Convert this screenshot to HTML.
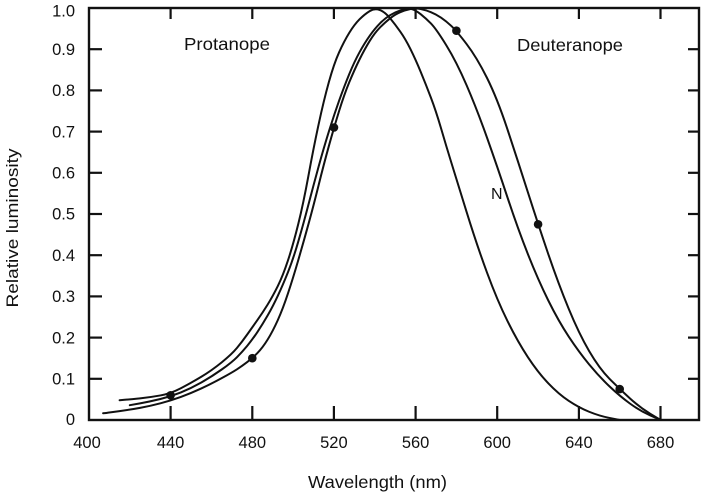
<!DOCTYPE html>
<html>
<head>
<meta charset="utf-8">
<style>
  html, body { margin: 0; padding: 0; background: #ffffff; }
  svg { display: block; }
  text { font-family: "Liberation Sans", Arial, sans-serif; fill: #111; }
</style>
</head>
<body>
<svg width="705" height="492" viewBox="0 0 705 492" xmlns="http://www.w3.org/2000/svg">
  <rect x="0" y="0" width="705" height="492" fill="#ffffff"/>

  <!-- Axes frame -->
  <rect x="89" y="8" width="610" height="412" fill="none" stroke="#111" stroke-width="2.4"/>

  <!-- Ticks -->
  <g stroke="#111" stroke-width="2.2">
    <line x1="89" y1="378.8" x2="102" y2="378.8"/>
    <line x1="89" y1="337.6" x2="102" y2="337.6"/>
    <line x1="89" y1="296.4" x2="102" y2="296.4"/>
    <line x1="89" y1="255.2" x2="102" y2="255.2"/>
    <line x1="89" y1="214" x2="102" y2="214"/>
    <line x1="89" y1="172.8" x2="102" y2="172.8"/>
    <line x1="89" y1="131.6" x2="102" y2="131.6"/>
    <line x1="89" y1="90.4" x2="102" y2="90.4"/>
    <line x1="89" y1="49.2" x2="102" y2="49.2"/>
    <line x1="699" y1="378.8" x2="688" y2="378.8"/>
    <line x1="699" y1="337.6" x2="688" y2="337.6"/>
    <line x1="699" y1="296.4" x2="688" y2="296.4"/>
    <line x1="699" y1="255.2" x2="688" y2="255.2"/>
    <line x1="699" y1="214" x2="688" y2="214"/>
    <line x1="699" y1="172.8" x2="688" y2="172.8"/>
    <line x1="699" y1="131.6" x2="688" y2="131.6"/>
    <line x1="699" y1="90.4" x2="688" y2="90.4"/>
    <line x1="699" y1="49.2" x2="688" y2="49.2"/>
    <line x1="170.6" y1="420" x2="170.6" y2="406"/>
    <line x1="252.3" y1="420" x2="252.3" y2="406"/>
    <line x1="333.9" y1="420" x2="333.9" y2="406"/>
    <line x1="415.6" y1="420" x2="415.6" y2="406"/>
    <line x1="497.2" y1="420" x2="497.2" y2="406"/>
    <line x1="578.9" y1="420" x2="578.9" y2="406"/>
    <line x1="660.5" y1="420" x2="660.5" y2="406"/>
    <line x1="170.6" y1="8" x2="170.6" y2="19"/>
    <line x1="252.3" y1="8" x2="252.3" y2="19"/>
    <line x1="333.9" y1="8" x2="333.9" y2="19"/>
    <line x1="415.6" y1="8" x2="415.6" y2="19"/>
    <line x1="497.2" y1="8" x2="497.2" y2="19"/>
    <line x1="578.9" y1="8" x2="578.9" y2="19"/>
    <line x1="660.5" y1="8" x2="660.5" y2="19"/>
  </g>

  <!-- Y tick labels -->
  <g font-size="16.5" text-anchor="end">
    <text x="75" y="425">0</text>
    <text x="75" y="384.5">0.1</text>
    <text x="75" y="343.3">0.2</text>
    <text x="75" y="302.1">0.3</text>
    <text x="75" y="260.9">0.4</text>
    <text x="75" y="219.7">0.5</text>
    <text x="75" y="178.5">0.6</text>
    <text x="75" y="137.3">0.7</text>
    <text x="75" y="96.1">0.8</text>
    <text x="75" y="54.9">0.9</text>
    <text x="75" y="16.5">1.0</text>
  </g>

  <!-- X tick labels -->
  <g font-size="16.5" text-anchor="middle">
    <text x="87" y="448">400</text>
    <text x="170.6" y="448">440</text>
    <text x="252.3" y="448">480</text>
    <text x="333.9" y="448">520</text>
    <text x="415.6" y="448">560</text>
    <text x="497.2" y="448">600</text>
    <text x="578.9" y="448">640</text>
    <text x="660.5" y="448">680</text>
  </g>

  <!-- Axis titles -->
  <text x="308" y="488" font-size="17.5" textLength="139" lengthAdjust="spacingAndGlyphs">Wavelength (nm)</text>
  <text transform="translate(18,228) rotate(-90)" font-size="16.5" text-anchor="middle" textLength="159" lengthAdjust="spacingAndGlyphs">Relative luminosity</text>

  <!-- Curve labels -->
  <text x="184" y="50" font-size="17.5" textLength="86" lengthAdjust="spacingAndGlyphs">Protanope</text>
  <text x="517" y="51" font-size="17.5" textLength="106" lengthAdjust="spacingAndGlyphs">Deuteranope</text>
  <text x="491" y="199" font-size="16">N</text>

  <!-- Curves -->
  <g fill="none" stroke="#111" stroke-width="2" stroke-linecap="round" stroke-linejoin="round">
    <!-- Protanope -->
    <path d="M119.6,400.2 L124.7,399.8 Q129.8,399.4 140,398.35 Q150.2,397.3 160.4,395.45 Q170.6,393.6 180.85,388.25 Q191.1,382.9 201.3,376.75 Q211.5,370.6 221.7,362.35 Q231.9,354.1 237,347.9 Q242.1,341.7 247.2,334.5 Q252.3,327.3 257.4,320.1 Q262.5,312.9 267.6,304.65 Q272.7,296.4 277.8,286.1 Q282.9,275.8 288,260.35 Q293.1,244.9 298.2,224.3 Q303.3,203.7 308.4,175.9 Q313.5,148.1 318.6,124.4 Q323.7,100.7 328.85,82.15 Q334,63.6 339.1,52.3 Q344.2,41 349.3,32.75 Q354.4,24.5 359.5,19.35 Q364.6,14.2 369.7,11.1 Q374.8,8 379.9,10.05 Q385,12.1 390.1,18.3 Q395.2,24.5 400.3,31.7 Q405.4,38.9 410.5,49.2 Q415.6,59.5 420.7,71.85 Q425.8,84.2 430.9,97.6 Q436,111 441.1,128.5 Q446.2,146 451.3,162.5 Q456.4,179 466.6,211.95 Q476.8,244.9 487.05,272.7 Q497.3,300.5 507.5,321.1 Q517.7,341.7 527.9,357.15 Q538.1,372.6 548.3,383.3 Q558.5,394 568.7,400.8 Q578.9,407.6 589.1,411.75 Q599.3,415.9 609.5,417.95 L619.7,420"/>
    <!-- Normal -->
    <path d="M129.8,405.2 L140,403.35 Q150.2,401.5 160.4,399 Q170.6,396.5 180.85,392.4 Q191.1,388.3 201.3,382.5 Q211.5,376.7 221.7,369.5 Q231.9,362.3 237,357.15 Q242.1,352 247.2,345.85 Q252.3,339.7 257.4,332.05 Q262.5,324.4 267.6,315.55 Q272.7,306.7 277.8,295.8 Q282.9,284.9 288,272.1 Q293.1,259.3 298.2,241.8 Q303.3,224.3 308.4,204.75 Q313.5,185.2 318.6,166.65 Q323.7,148.1 328.85,131.6 Q334,115.1 339.1,100.7 Q344.2,86.3 349.3,73.95 Q354.4,61.6 359.5,52.3 Q364.6,43 369.7,35.8 Q374.8,28.6 379.9,23.45 Q385,18.3 390.1,15.2 Q395.2,12.1 401.3,10.05 Q407.4,8 411.5,9.05 Q415.6,10.1 420.7,14.2 Q425.8,18.3 430.9,23.45 Q436,28.6 446.2,45.1 Q456.4,61.6 466.6,85.25 Q476.8,108.9 487.05,137.75 Q497.3,166.6 507.5,197.5 Q517.7,228.4 527.9,254.15 Q538.1,279.9 548.3,300.5 Q558.5,321.1 568.7,336.55 Q578.9,352 589.1,364.35 Q599.3,376.7 609.5,386.4 Q619.7,396.1 629.9,403.5 Q640.1,410.9 650.35,415.45 L660.6,420"/>
    <!-- Deuteranope -->
    <path d="M103.1,413.3 L106.25,412.95 Q109.4,412.6 119.6,411.15 Q129.8,409.7 140,407.85 Q150.2,406 160.4,403.3 Q170.6,400.6 180.85,396.9 Q191.1,393.2 201.3,388.45 Q211.5,383.7 221.7,378.15 Q231.9,372.6 237,369.3 Q242.1,366 247.2,362.1 Q252.3,358.2 257.4,353.05 Q262.5,347.9 267.6,339.65 Q272.7,331.4 277.8,320.1 Q282.9,308.8 288,293.35 Q293.1,277.9 298.2,260.35 Q303.3,242.8 308.4,224.3 Q313.5,205.8 318.6,185.2 Q323.7,164.6 328.85,146.05 Q334,127.5 339.1,111 Q344.2,94.5 349.3,82.15 Q354.4,69.8 359.5,59.5 Q364.6,49.2 369.7,40.95 Q374.8,32.7 379.9,27.55 Q385,22.4 390.1,18.3 Q395.2,14.2 400.3,12.15 Q405.4,10.1 410.5,9.05 Q415.6,8 420.7,9.05 Q425.8,10.1 430.9,12.15 Q436,14.2 441.1,17.7 Q446.2,21.2 451.3,25.95 Q456.4,30.7 466.6,44.05 Q476.8,57.4 487.05,78 Q497.3,98.6 507.5,129.5 Q517.7,160.4 527.9,192.35 Q538.1,224.3 548.3,254.15 Q558.5,284 568.7,308.75 Q578.9,333.5 589.1,351 Q599.3,368.5 609.5,378.8 Q619.7,389.1 629.9,398.35 Q640.1,407.6 650.35,413.8 L660.6,420"/>
  </g>

  <!-- Data points -->
  <g fill="#111">
    <circle cx="170.6" cy="395.3" r="4.3"/>
    <circle cx="252.3" cy="358.2" r="4.3"/>
    <circle cx="334" cy="127.5" r="4.3"/>
    <circle cx="456.4" cy="30.7" r="4.3"/>
    <circle cx="538.1" cy="224.3" r="4.3"/>
    <circle cx="619.7" cy="389.1" r="4.3"/>
  </g>
</svg>
</body>
</html>
